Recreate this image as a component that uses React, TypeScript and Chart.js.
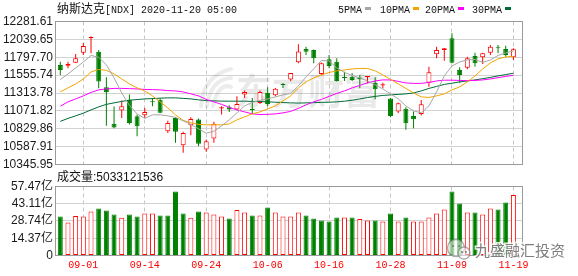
import React, { useEffect, useRef } from 'react';
import { Chart, registerables } from 'chart.js';

Chart.register(...registerables);

// ---------- data ----------
const dates = [
  '08-27', '08-28', '08-31', '09-01', '09-02', '09-03', '09-04', '09-08', '09-09', '09-10',
  '09-11', '09-14', '09-15', '09-16', '09-17', '09-18', '09-21', '09-22', '09-23', '09-24',
  '09-25', '09-28', '09-29', '09-30', '10-01', '10-02', '10-05', '10-06', '10-07', '10-08',
  '10-09', '10-12', '10-13', '10-14', '10-15', '10-16', '10-19', '10-20', '10-21', '10-22',
  '10-23', '10-26', '10-27', '10-28', '10-29', '10-30', '11-02', '11-03', '11-04', '11-05',
  '11-06', '11-09', '11-10', '11-11', '11-12', '11-13', '11-16', '11-17', '11-18', '11-19',
];

const opens = [
  11693, 11684, 11724, 11860, 12058, 11873, 11392, 10896, 11076, 11224,
  11000, 11013, 11200, 11224, 10797, 10977, 10608, 10878, 10954, 10548,
  10697, 11103, 11122, 11089, 11292, 11092, 11180, 11315, 11284, 11437,
  11495, 11730, 11910, 11896, 11572, 11770, 11738, 11531, 11535, 11522,
  11531, 11454, 11414, 11238, 11062, 11099, 11004, 11031, 11454, 11838,
  11896, 12054, 11626, 11657, 11815, 11797, 11860, 11926, 11910, 11797,
];
const highs = [
  11738, 11738, 11842, 11991, 12081, 11896, 11527, 11130, 11211, 11292,
  11022, 11112, 11247, 11243, 10937, 10987, 10788, 10987, 10968, 10684,
  10923, 11135, 11149, 11270, 11346, 11247, 11346, 11392, 11383, 11450,
  11585, 11975, 11941, 11903, 11725, 11829, 11784, 11603, 11581, 11558,
  11545, 11527, 11454, 11247, 11184, 11122, 11062, 11220, 11670, 11941,
  11923, 12122, 11662, 11806, 11860, 11860, 11964, 11964, 11954, 11919,
];
const lows = [
  11558, 11649, 11720, 11829, 11851, 11378, 10869, 10838, 10977, 10886,
  10730, 10977, 11135, 11041, 10774, 10639, 10504, 10743, 10594, 10517,
  10639, 11022, 11058, 11085, 11247, 11031, 11166, 11135, 11270, 11383,
  11473, 11718, 11829, 11716, 11558, 11649, 11468, 11477, 11477, 11378,
  11446, 11230, 11378, 10987, 11041, 10815, 10838, 11008, 11400, 11784,
  11752, 11716, 11454, 11635, 11670, 11707, 11829, 11852, 11806, 11761,
];
const closes = [
  11626, 11707, 11784, 11950, 12072, 11468, 11324, 10846, 11135, 10909,
  10865, 11058, 11187, 11045, 10909, 10788, 10774, 10963, 10626, 10662,
  10896, 11122, 11089, 11166, 11328, 11085, 11328, 11166, 11373, 11423,
  11585, 11876, 11873, 11784, 11716, 11680, 11477, 11518, 11491, 11500,
  11545, 11365, 11433, 11004, 11176, 10905, 10959, 11162, 11595, 11896,
  11919, 11724, 11558, 11784, 11716, 11852, 11941, 11919, 11829, 11906,
];

const ma5 = [
  11495, 11572, 11653, 11734, 11822, 11798, 11694, 11518, 11315, 11146,
  11031, 10970, 11018, 11018, 11004, 10984, 10937, 10889, 10829, 10770,
  10795, 10869, 10950, 11045, 11139, 11187, 11214, 11234, 11261, 11288,
  11308, 11410, 11531, 11640, 11754, 11748, 11653, 11592, 11552, 11518,
  11477, 11423, 11369, 11302, 11234, 11139, 11072, 11045, 11139, 11329,
  11545, 11680, 11734, 11761, 11768, 11727, 11761, 11822, 11856, 11883,
];
const ma10 = [
  11329, 11383, 11437, 11504, 11599, 11633, 11619, 11572, 11504, 11437,
  11383, 11342, 11275, 11194, 11112, 11018, 10943, 10910, 10889, 10883,
  10883, 10883, 10896, 10950, 10991, 11031, 11058, 11099, 11139, 11207,
  11275, 11383, 11464, 11518, 11558, 11592, 11613, 11626, 11640, 11646,
  11646, 11613, 11558, 11498, 11437, 11376, 11315, 11261, 11254, 11275,
  11302, 11356, 11396, 11464, 11545, 11640, 11721, 11775, 11802, 11809,
];
const ma20 = [
  11135, 11194, 11234, 11275, 11322, 11356, 11369, 11376, 11376, 11373,
  11369, 11362, 11360, 11356, 11346, 11342, 11329, 11302, 11275, 11227,
  11194, 11160, 11119, 11085, 11058, 11031, 11022, 11025, 11031, 11045,
  11065, 11106, 11153, 11194, 11227, 11268, 11308, 11342, 11383, 11417,
  11450, 11477, 11491, 11491, 11471, 11450, 11444, 11444, 11457, 11477,
  11487, 11487, 11484, 11481, 11484, 11491, 11504, 11521, 11538, 11554,
];
const ma30 = [
  10930, 10970, 11004, 11041, 11085, 11126, 11160, 11180, 11200, 11216,
  11225, 11234, 11238, 11244, 11248, 11248, 11241, 11234, 11221, 11211,
  11207, 11204, 11203, 11203, 11203, 11200, 11198, 11194, 11189, 11184,
  11180, 11177, 11180, 11183, 11187, 11189, 11194, 11203, 11216, 11234,
  11252, 11268, 11281, 11288, 11295, 11302, 11315, 11342, 11376, 11403,
  11430, 11446, 11464, 11477, 11491, 11508, 11525, 11545, 11563, 11581,
];

// volume in 亿 (1e8)
const volumes = [
  32.5, 27.5, 33.0, 32.5, 36.6, 39.1, 37.5, 34.1, 31.4, 34.1,
  32.5, 35.0, 35.0, 33.3, 33.3, 53.3, 35.0, 31.4, 36.6, 35.8,
  34.1, 32.5, 30.8, 38.0, 35.8, 33.3, 33.3, 40.0, 35.8, 32.5,
  32.5, 35.8, 33.3, 30.8, 29.2, 28.3, 31.7, 31.7, 31.7, 30.5,
  29.2, 29.2, 28.3, 35.0, 28.3, 31.7, 28.3, 28.3, 31.7, 35.0,
  38.3, 53.3, 43.3, 35.8, 35.8, 34.1, 39.1, 38.3, 44.1, 50.33,
];
const firstVolumeUp = false;

const priceTicks = [10345.95, 10587.91, 10829.86, 11071.82, 11313.78, 11555.74, 11797.70, 12039.65, 12281.61];
const priceTickLabels = ['10345.95', '10587.91', '10829.86', '11071.82', '11313.78', '11555.74', '11797.70', '12039.65', '12281.61'];
const volumeTicks = [0, 14.37, 28.74, 43.11, 57.47];
const volumeTickLabels = ['0', '14.37亿', '28.74亿', '43.11亿', '57.47亿'];

const titleCn = '纳斯达克';
const titleAscii = '[NDX] 2020-11-20 05:00';
const volumeLabelCn = '成交量';
const volumeLabelValue = ':5033121536';
const maNames = ['5PMA', '10PMA', '20PMA', '30PMA'];
const watermarkMain = '东方财富';
const watermarkCorner = '九盛融汇投资';

// ---------- styles ----------
const UP = '#ff0000';
const DOWN = '#008000';
const MA_COLORS = ['#a6a6a6', '#f2a400', '#ff00ff', '#006b36'];
const GRID = '#d2d2d2';
const VGRID = '#c6c6c6';
const FRAME = '#9a9a9a';
const TEXT = '#1a1a1a';
const SANS = '"Liberation Sans", Arial, "Noto Sans CJK SC", sans-serif';
const MONO = '"Liberation Mono", "DejaVu Sans Mono", monospace';
const CJK = '"Noto Sans CJK SC", sans-serif';

const W = 578;
const H = 276;
const X_MIN = -0.56;
const X_MAX = 60.12;

const idx = dates.map((_, i) => i);
const labelIdx = idx.filter((i) => (i - 3) % 8 === 0);
const candleUp = (i: number) => closes[i] >= opens[i];
const volumeUp = (i: number) => (i === 0 ? firstVolumeUp : closes[i] >= closes[i - 1]);

function xAxis(showLabels: boolean, height: number, padding: number) {
  return {
    type: 'linear',
    min: X_MIN,
    max: X_MAX,
    bounds: 'data',
    offset: false,
    afterBuildTicks: (s: any) => {
      s.ticks = labelIdx.map((v) => ({ value: v }));
    },
    afterFit: (s: any) => {
      s.height = height;
    },
    grid: { color: VGRID, lineWidth: 1, drawTicks: false, offset: false },
    border: { display: false, dash: [4, 3] },
    ticks: {
      display: showLabels,
      autoSkip: false,
      maxRotation: 0,
      padding,
      color: UP,
      font: { family: MONO, size: 10 },
      callback: (v: any) => dates[v] ?? '',
    },
  };
}

function yAxis(min: number, max: number, ticks: number[], labels: string[]) {
  return {
    type: 'linear',
    position: 'left',
    min,
    max,
    bounds: 'data',
    afterBuildTicks: (s: any) => {
      s.ticks = ticks.map((v) => ({ value: v }));
    },
    afterFit: (s: any) => {
      s.width = 56;
    },
    grid: { color: GRID, lineWidth: 1, drawTicks: false },
    border: { display: false },
    ticks: {
      autoSkip: false,
      padding: 3,
      color: TEXT,
      font: { family: SANS, size: 12 },
      callback: (_v: any, i: number) => labels[i],
    },
  };
}

const framePlugin = {
  id: 'frame',
  afterDatasetsDraw(chart: any) {
    const { ctx, chartArea: a } = chart;
    ctx.save();
    ctx.strokeStyle = FRAME;
    ctx.lineWidth = 1;
    const x0 = Math.round(a.left) - 0.5;
    const x1 = Math.round(a.right) + 0.5;
    const y0 = Math.floor(a.top) + 0.5;
    const y1 = Math.floor(a.bottom) + 0.5;
    ctx.strokeRect(x0, y0, x1 - x0, y1 - y0);
    ctx.restore();
  },
};

const priceDecor = {
  id: 'priceDecor',
  beforeDatasetsDraw(chart: any) {
    const { ctx } = chart;
    ctx.save();
    // faint logo swoosh + watermark text
    ctx.strokeStyle = 'rgba(0,0,0,0.075)';
    ctx.lineWidth = 4;
    ctx.lineCap = 'round';
    for (let k = 0; k < 3; k++) {
      ctx.beginPath();
      ctx.moveTo(201 + k * 6, 106);
      ctx.quadraticCurveTo(203 + k * 8, 76 + k * 3, 231, 69 + k * 9);
      ctx.stroke();
    }
    ctx.fillStyle = 'rgba(0,0,0,0.085)';
    ctx.font = `bold 36px ${CJK}`;
    ctx.textBaseline = 'alphabetic';
    ctx.fillText(watermarkMain, 236, 105);
    ctx.restore();
  },
  afterDraw(chart: any) {
    const { ctx } = chart;
    ctx.save();
    ctx.textBaseline = 'alphabetic';
    ctx.fillStyle = '#111';
    ctx.font = `12px ${CJK}`;
    ctx.fillText(titleCn, 57, 12.5);
    const w = ctx.measureText(titleCn).width;
    ctx.font = `10px ${MONO}`;
    ctx.fillText(titleAscii, 57 + w, 12.5);

    const legendX = [338, 380, 425, 472];
    maNames.forEach((name, k) => {
      ctx.fillStyle = '#111';
      ctx.font = `10px ${MONO}`;
      ctx.fillText(name, legendX[k], 12.5);
      const tw = ctx.measureText(name).width;
      ctx.fillStyle = MA_COLORS[k];
      ctx.fillRect(Math.round(legendX[k] + tw + 3), 7, 6, 3);
    });
    ctx.restore();
  },
};

const volumeDecor = {
  id: 'volumeDecor',
  afterDraw(chart: any) {
    const { ctx } = chart;
    ctx.save();
    ctx.textBaseline = 'alphabetic';
    ctx.fillStyle = '#111';
    ctx.font = `12px ${CJK}`;
    ctx.fillText(volumeLabelCn, 57, 180.5);
    const w = ctx.measureText(volumeLabelCn).width;
    ctx.font = `12px ${SANS}`;
    ctx.fillText(volumeLabelValue, 57 + w, 180.5);

    // corner watermark
    ctx.lineWidth = 1.5;
    ctx.strokeStyle = 'rgba(120,120,120,0.6)';
    ctx.fillStyle = 'rgba(255,255,255,0.55)';
    ctx.beginPath();
    ctx.arc(456, 248, 8.5, 0, Math.PI * 2);
    ctx.fill();
    ctx.stroke();
    ctx.beginPath();
    ctx.arc(464, 253, 6, 0, Math.PI * 2);
    ctx.fill();
    ctx.stroke();
    ctx.fillStyle = 'rgba(110,110,110,0.8)';
    [[453, 246], [459, 246], [462, 252], [466, 252]].forEach(([x, y]) => {
      ctx.beginPath();
      ctx.arc(x, y, 1.1, 0, Math.PI * 2);
      ctx.fill();
    });
    ctx.font = `15px ${CJK}`;
    ctx.lineWidth = 3;
    ctx.strokeStyle = 'rgba(255,255,255,0.85)';
    ctx.strokeText(watermarkCorner, 475, 256);
    ctx.fillStyle = 'rgba(105,105,105,0.85)';
    ctx.fillText(watermarkCorner, 475, 256);
    ctx.restore();
  },
};

export default function App() {
  const priceRef = useRef<HTMLCanvasElement>(null);
  const volRef = useRef<HTMLCanvasElement>(null);

  useEffect(() => {
    if (!priceRef.current || !volRef.current) return;
    Chart.defaults.font.family = SANS;

    const maSeries = [ma5, ma10, ma20, ma30];

    const priceChart = new Chart(priceRef.current, {
      type: 'bar',
      data: {
        datasets: [
          ...maSeries.map((vals, k) => ({
            type: 'line',
            data: vals.map((v, i) => ({ x: i, y: v })),
            borderColor: MA_COLORS[k],
            backgroundColor: MA_COLORS[k],
            borderWidth: 1,
            pointRadius: 0,
            tension: 0,
            fill: false,
            order: 0,
          })),
          {
            type: 'bar',
            data: idx.map((i) => ({ x: i, y: [opens[i], closes[i]] })),
            backgroundColor: idx.map((i) => (candleUp(i) ? '#ffffff' : DOWN)),
            borderColor: idx.map((i) => (candleUp(i) ? UP : DOWN)),
            borderWidth: 1,
            borderSkipped: false,
            barThickness: 5,
            minBarLength: 1,
            grouped: false,
            inflateAmount: 0,
            order: 1,
          },
          {
            type: 'bar',
            data: idx.map((i) => ({ x: i, y: [lows[i], highs[i]] })),
            backgroundColor: idx.map((i) => (candleUp(i) ? UP : DOWN)),
            borderWidth: 0,
            barThickness: 1,
            grouped: false,
            inflateAmount: 0,
            order: 2,
          },
        ] as any,
      },
      options: {
        responsive: false,
        animation: false,
        events: [],
        layout: { padding: { left: 0, right: 56, top: 21.5, bottom: H - 164.5 } },
        plugins: { legend: { display: false }, tooltip: { enabled: false }, title: { display: false } },
        scales: {
          x: xAxis(false, 0, 0) as any,
          y: yAxis(priceTicks[0], priceTicks[priceTicks.length - 1], priceTicks, priceTickLabels) as any,
        },
      },
      plugins: [priceDecor, framePlugin],
    });

    const volumeChart = new Chart(volRef.current, {
      type: 'bar',
      data: {
        datasets: [
          {
            data: idx.map((i) => ({ x: i, y: volumes[i] })),
            backgroundColor: idx.map((i) => (volumeUp(i) ? '#ffffff' : DOWN)),
            borderColor: idx.map((i) => (volumeUp(i) ? UP : DOWN)),
            borderWidth: 1,
            borderSkipped: false,
            barThickness: 5,
            grouped: false,
            inflateAmount: 0,
          },
        ] as any,
      },
      options: {
        responsive: false,
        animation: false,
        events: [],
        layout: { padding: { left: 0, right: 56, top: 186.5, bottom: 0 } },
        plugins: { legend: { display: false }, tooltip: { enabled: false }, title: { display: false } },
        scales: {
          x: xAxis(true, H - 255.5, 4) as any,
          y: yAxis(volumeTicks[0], volumeTicks[volumeTicks.length - 1], volumeTicks, volumeTickLabels) as any,
        },
      },
      plugins: [framePlugin, volumeDecor],
    });

    return () => {
      priceChart.destroy();
      volumeChart.destroy();
    };
  }, []);

  return (
    <div style={{ position: 'absolute', left: 0, top: 0, width: W, height: H, background: '#ffffff', overflow: 'hidden' }}>
      <canvas ref={priceRef} width={W} height={H} style={{ position: 'absolute', left: 0, top: 0, width: W, height: H }} />
      <canvas ref={volRef} width={W} height={H} style={{ position: 'absolute', left: 0, top: 0, width: W, height: H }} />
    </div>
  );
}
